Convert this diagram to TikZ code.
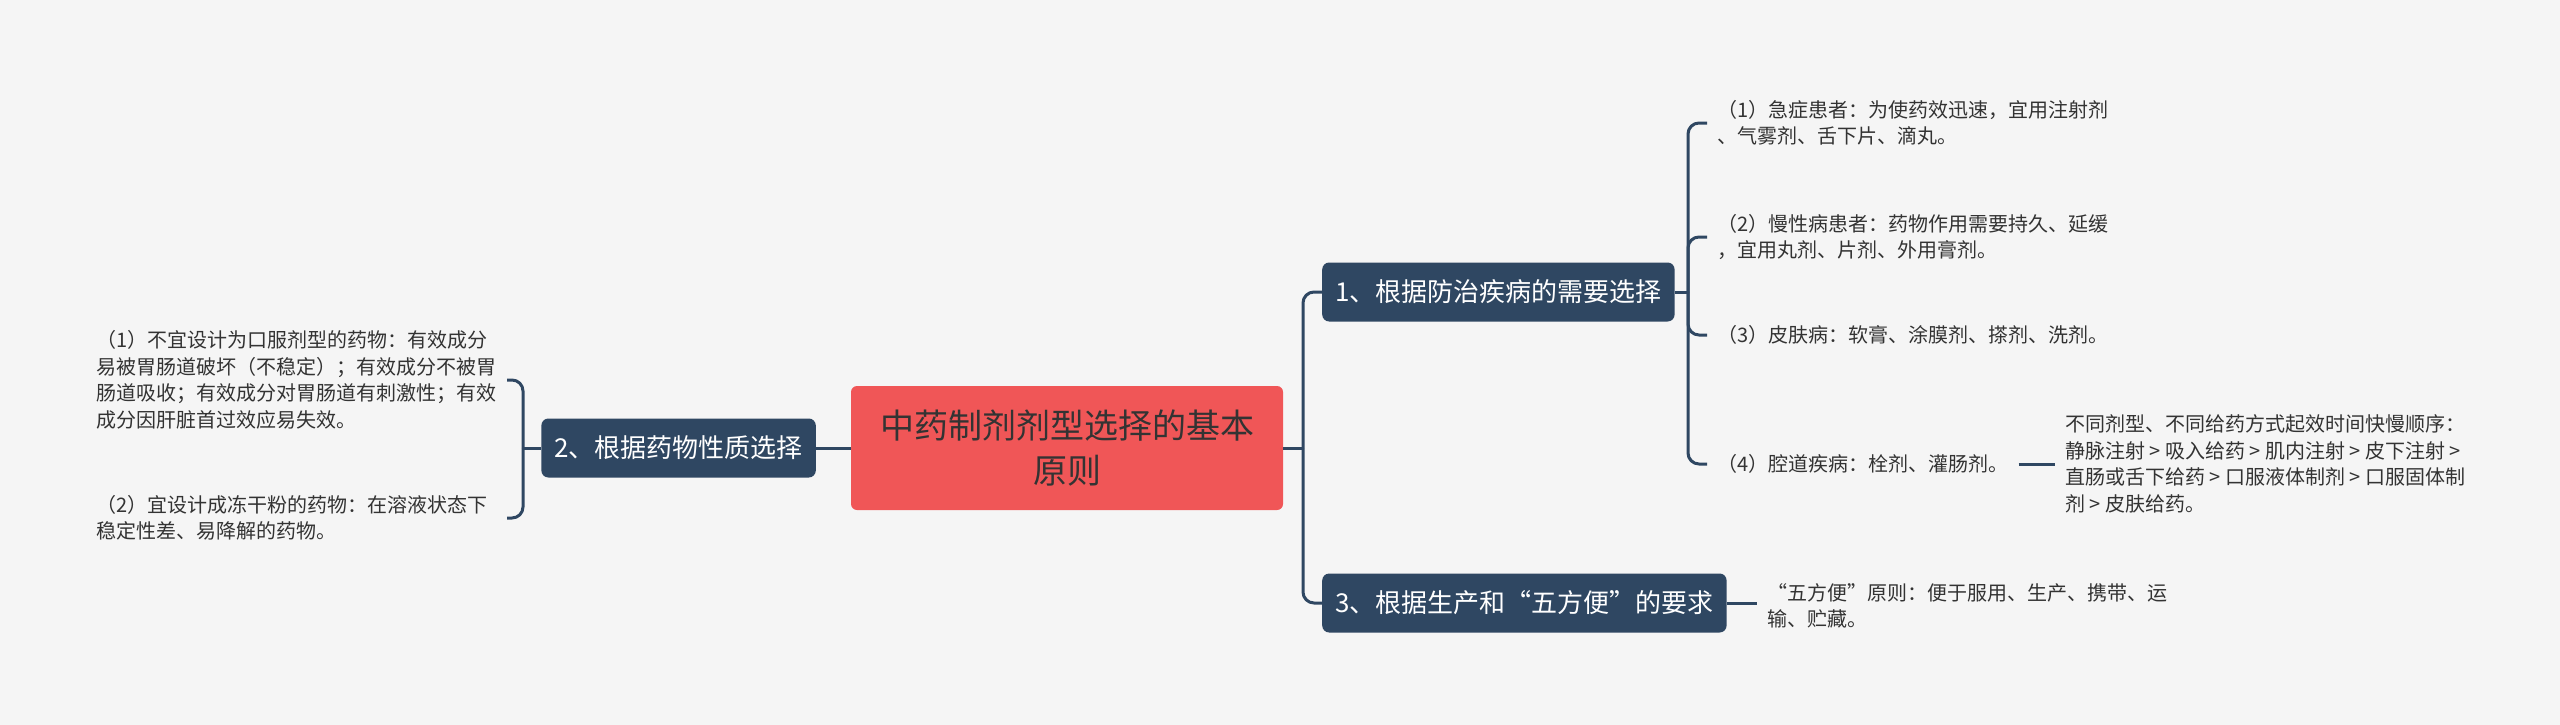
\documentclass[tikz,border=0pt]{standalone}
\usepackage{fontspec}
\setmainfont{Noto Sans CJK SC}
\definecolor{bgc}{HTML}{F5F5F5}
\definecolor{rootc}{HTML}{F05657}
\definecolor{topicc}{HTML}{2F4762}
\definecolor{linec}{HTML}{2F4762}
\definecolor{txt}{HTML}{333333}

\begin{document}
\begin{tikzpicture}[x=1pt, y=-1pt,
	root/.style={fill=rootc, rounded corners=6pt, text=txt, align=center, inner sep=0pt,
		minimum width=432pt, minimum height=124pt, font=\fontsize{34}{45}\selectfont},
	topic/.style={fill=topicc, rounded corners=7pt, text=white, inner xsep=13pt, inner ysep=0pt,
		minimum height=59pt, font=\fontsize{26}{30}\selectfont},
	leaf/.style={text=txt, align=left, inner xsep=10pt, inner ysep=3pt,
		font=\fontsize{20}{26.5}\selectfont},
	link/.style={draw=linec, line width=3pt, rounded corners=11pt}]
			\useasboundingbox (0,0) rectangle (2560,725);
			\fill[bgc] (0,0) rectangle (2560,725);
			% centre and main topics
			\node[root] (root) at (1067,448) {中药制剂剂型选择的基本\\原则};
			\node[topic, anchor=west] (b1) at (1322,292) {1、根据防治疾病的需要选择};
			\node[topic, anchor=east] (b2) at (816,448) {2、根据药物性质选择};
			\node[topic, anchor=west] (b3) at (1322,603) {3、根据生产和“五方便”的要求};
			% leaves of topic 1
			\node[leaf, anchor=west] (t1) at (1707,123) {（1）急症患者：为使药效迅速，宜用注射剂\\、气雾剂、舌下片、滴丸。};
			\node[leaf, anchor=west] (t2) at (1707,237) {（2）慢性病患者：药物作用需要持久、延缓\\，宜用丸剂、片剂、外用膏剂。};
			\node[leaf, anchor=west] (t3) at (1707,335) {（3）皮肤病：软膏、涂膜剂、搽剂、洗剂。};
			\node[leaf, anchor=west] (t4) at (1707,464) {（4）腔道疾病：栓剂、灌肠剂。};
			\node[leaf, anchor=west] (t5) at (2055,464) {不同剂型、不同给药方式起效时间快慢顺序：\\静脉注射 > 吸入给药 > 肌内注射 > 皮下注射 >\\直肠或舌下给药 > 口服液体制剂 > 口服固体制\\剂 > 皮肤给药。};
			% leaves of topic 2
			\node[leaf, anchor=east, text width=400pt] (l1) at (507,380) {（1）不宜设计为口服剂型的药物：有效成分\\易被胃肠道破坏（不稳定）；有效成分不被胃\\肠道吸收；有效成分对胃肠道有刺激性；有效\\成分因肝脏首过效应易失效。};
			\node[leaf, anchor=east, text width=400pt] (l2) at (507,518) {（2）宜设计成冻干粉的药物：在溶液状态下\\稳定性差、易降解的药物。};
			% leaf of topic 3
			\node[leaf, anchor=west] (t6) at (1757,606) {“五方便”原则：便于服用、生产、携带、运\\输、贮藏。};
			% junctions
			\coordinate (jc) at (1303,448);
			\coordinate (jl) at (523,448);
			\coordinate (jr) at (1688,292);
			% connectors
			\draw[link] (root.east) -- (jc);
			\draw[link] (jc) |- (b1.west);
			\draw[link] (jc) |- (b3.west);
			\draw[link] (root.west) -- (b2.east);
			\draw[link] (b2.west) -- (jl);
			\draw[link] (jl) |- (l1.east);
			\draw[link] (jl) |- (l2.east);
			\draw[link] (b1.east) -- (jr);
			\foreach \t in {t1,t2,t3,t4} \draw[link] (jr) |- (\t.west);
			\draw[link] (t4.east) -- (t5.west);
			\draw[link] (b3.east) -- (b3.east -| t6.west);
		\end{tikzpicture}
\end{document}
